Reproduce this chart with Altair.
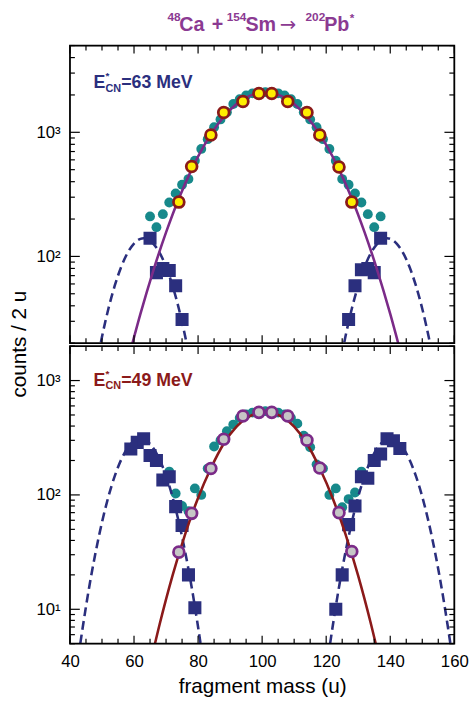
import altair as alt
import pandas as pd

FONT = "Liberation Sans"
W, H = 390, 302

NAVY = "#2B2F7E"
TEAL = "#17898B"
YELLOW = "#FFEE00"
DARKRED = "#8B1A1A"
PURPLE = "#7B2B88"
GRAY = "#C6C6C6"
TITLE_PURPLE = "#8B3A92"

# ---------------- top panel (E*CN = 63 MeV) ----------------
top_teal_mass = [65, 67, 69, 71, 73, 75, 77, 79, 81, 83, 85, 87, 89, 91, 93, 95, 97, 99, 101,
                 103, 105, 107, 109, 111, 113, 115, 117, 119, 121, 123, 125, 127, 129, 131, 133, 135, 137]
top_teal_counts = [210, 172, 219, 272, 322, 378, 420, 590, 735, 880, 1100, 1270, 1450, 1690, 1850, 1980, 2060, 2100, 2110,
                   2100, 2060, 1980, 1850, 1690, 1450, 1270, 1100, 880, 735, 590, 420, 378, 322, 272, 219, 172, 210]
top_sym_mass = [74, 78, 84, 88, 94, 99, 103, 108, 114, 118, 124, 128]
top_sym_counts = [274, 531, 952, 1443, 1772, 2053, 2053, 1772, 1443, 952, 525, 274]
top_sq_mass = [65, 67, 69, 71, 73, 75, 127, 129, 131, 133, 135, 137]
top_sq_counts = [140, 74, 80, 77, 58, 31, 31, 58, 78, 80, 74, 140]
top_fit_mass = [58, 62, 66, 70, 74, 78, 82, 86, 90, 94, 98, 101, 104, 108, 112, 116, 120, 124, 128, 132, 136, 140, 144]
top_fit_counts = [14.2, 34.4, 76.6, 156, 293, 503, 791, 1143, 1514, 1840, 2050, 2100, 2050, 1840, 1514, 1143, 791, 503,
                  293, 156, 76.6, 34.4, 14.2]
top_qfl_mass = [48, 50, 52, 54, 56, 58, 60, 62, 63, 64, 66, 68, 70, 72, 74, 76, 78]
top_qfl_counts = [12.3, 22.5, 37.9, 58.3, 82.4, 106.9, 127, 138.5, 140, 138.5, 127, 106.9, 82.4, 58.3, 37.9, 22.5, 12.3]
top_qfr_mass = [124, 126, 128, 130, 132, 134, 136, 138, 139, 140, 142, 144, 146, 148, 150, 152, 154]
top_qfr_counts = [12.3, 22.5, 37.9, 58.3, 82.4, 106.9, 127, 138.5, 140, 138.5, 127, 106.9, 82.4, 58.3, 37.9, 22.5, 12.3]

# ---------------- bottom panel (E*CN = 49 MeV) ----------------
bot_teal_mass = [71, 73, 75, 77, 79, 81, 83, 85, 87, 89, 91, 93, 95, 97, 99, 101,
                 103, 105, 107, 109, 111, 113, 115, 117, 119, 121, 123, 125, 127, 129, 131]
bot_teal_counts = [160, 103, 80, 72, 114, 100, 170, 265, 300, 360, 412, 470, 505, 525, 535, 540,
                   535, 525, 505, 470, 420, 330, 261, 185, 170, 100, 114, 78, 92, 105, 160]
bot_sym_mass = [74, 78, 84, 88, 94, 99, 103, 108, 114, 118, 124, 128]
bot_sym_counts = [31.6, 69, 170, 307, 490, 527, 527, 490, 301, 172, 70, 32]
bot_sq_mass = [59, 61, 63, 65, 67, 69, 71, 73, 75, 77, 79,
               123, 125, 127, 129, 131, 133, 135, 137, 139, 141, 143]
bot_sq_counts = [252, 288, 310, 221, 200, 135, 144, 79, 54, 20, 10.3,
                 10, 20, 55, 80, 144, 140, 200, 228, 310, 297, 255]
bot_fit_mass = [64, 68, 72, 76, 80, 84, 88, 92, 96, 101, 106, 110, 114, 118, 122, 126, 130, 134, 138]
bot_fit_counts = [2.47, 7.4, 19.6, 45.7, 94.1, 171, 280, 395, 485, 530, 485, 395, 280, 171, 94.1, 45.7, 19.6, 7.4, 2.47]
bot_qfl_mass = [42, 44, 46, 48, 50, 52, 54, 56, 58, 60, 62, 64, 66, 68, 70, 72, 74, 76, 78, 80, 82]
bot_qfl_counts = [2.9, 7.0, 15.6, 31.4, 57.7, 96.4, 146.7, 203.6, 257.2, 295.8, 310, 295.8, 257.2, 203.6, 146.7,
                  96.4, 57.7, 31.4, 15.6, 7.0, 2.9]
bot_qfr_mass = [120, 122, 124, 126, 128, 130, 132, 134, 136, 138, 140, 142, 144, 146, 148, 150, 152, 154, 156, 158, 160]
bot_qfr_counts = [2.9, 7.0, 15.6, 31.4, 57.7, 96.4, 146.7, 203.6, 257.2, 295.8, 310, 295.8, 257.2, 203.6, 146.7,
                  96.4, 57.7, 31.4, 15.6, 7.0, 2.9]

# ---------------- axes / ticks ----------------
x_domain = [40, 160]
x_major = [40, 60, 80, 100, 120, 140, 160]
x_minor = [45, 50, 55, 65, 70, 75, 85, 90, 95, 105, 110, 115, 125, 130, 135, 145, 150, 155]
top_ydomain = [20, 5000]
top_ymajor = [100, 1000]
top_yminor = [20, 30, 40, 50, 60, 70, 80, 90, 200, 300, 400, 500, 600, 700, 800, 900, 2000, 3000, 4000, 5000]
bot_ydomain = [5, 2000]
bot_ymajor = [10, 100, 1000]
bot_yminor = [5, 6, 7, 8, 9, 20, 30, 40, 50, 60, 70, 80, 90, 200, 300, 400, 500, 600, 700, 800, 900, 2000]

LABEL_EXPR = "datum.value == 1000 ? '10³' : datum.value == 100 ? '10²' : '10¹'"


def df(m, c=None):
    d = {"m": m}
    if c is not None:
        d["c"] = c
    return pd.DataFrame(d)


ONE = pd.DataFrame({"k": [0]})


def panel(teal, sq, sym, fit, qfl, qfr, ydom, ymaj, ymin, sym_fill, sym_stroke, fit_color, show_x, extra):
    xscale = alt.Scale(domain=x_domain, nice=False, zero=False)
    yscale = alt.Scale(type="log", domain=ydom, nice=False)
    if show_x:
        xaxis = alt.Axis(values=x_major, format="d", ticks=False, domain=False, grid=False,
                         labelFont=FONT, labelFontSize=17, labelColor="black", labelPadding=10,
                         labelFlush=False, labelOverlap=False,
                         title="fragment mass (u)", titleFont=FONT, titleFontSize=21,
                         titleFontWeight="normal", titleColor="black", titlePadding=7)
    else:
        xaxis = None
    yaxis = alt.Axis(values=ymaj, labelExpr=LABEL_EXPR, ticks=False, domain=False, grid=False,
                     labelFont=FONT, labelFontSize=17, labelColor="black", labelPadding=10,
                     labelFlush=False, title=None)

    def X():
        return alt.X("m:Q", scale=xscale, axis=xaxis)

    def Y():
        return alt.Y("c:Q", scale=yscale, axis=yaxis)

    qf = pd.concat([df(*qfl).assign(side="L"), df(*qfr).assign(side="R")])

    teal_l = alt.Chart(df(*teal)).mark_point(shape="circle", filled=True, color=TEAL, size=100, opacity=1, clip=True).encode(x=X(), y=Y())
    dash_l = alt.Chart(qf).mark_line(color=NAVY, strokeWidth=2.6, strokeDash=[9, 5], clip=True, interpolate="monotone").encode(
        x=X(), y=Y(), detail="side:N")
    sq_l = alt.Chart(df(*sq)).mark_point(shape="square", filled=True, color=NAVY, size=175, opacity=1, clip=True).encode(x=X(), y=Y())
    fit_l = alt.Chart(df(*fit)).mark_line(color=fit_color, strokeWidth=2.6, clip=True, interpolate="monotone").encode(x=X(), y=Y())
    sym_l = alt.Chart(df(*sym)).mark_point(shape="circle", filled=True, fill=sym_fill, stroke=sym_stroke, strokeWidth=2.8,
                                           size=120, opacity=1, fillOpacity=1, clip=True).encode(x=X(), y=Y())

    rule = dict(color="black", strokeWidth=1.2)
    tick_layers = []
    for vals, ln in ((x_major, 8), (x_minor, 5)):
        d = df(vals)
        tick_layers.append(alt.Chart(d).mark_rule(**rule).encode(x=X(), y=alt.value(H), y2=alt.value(H - ln)))
        tick_layers.append(alt.Chart(d).mark_rule(**rule).encode(x=X(), y=alt.value(0), y2=alt.value(ln)))
    for vals, ln in ((ymaj, 10), (ymin, 5)):
        d = pd.DataFrame({"c": vals})
        tick_layers.append(alt.Chart(d).mark_rule(**rule).encode(y=Y(), x=alt.value(0), x2=alt.value(ln)))
        tick_layers.append(alt.Chart(d).mark_rule(**rule).encode(y=Y(), x=alt.value(W), x2=alt.value(W - ln)))

    frame = alt.Chart(ONE).mark_rect(fillOpacity=0, stroke="black", strokeWidth=1.8).encode(
        x=alt.value(0), x2=alt.value(W), y=alt.value(0), y2=alt.value(H))

    layers = [teal_l, dash_l, sq_l, fit_l, sym_l] + tick_layers + [frame] + extra
    return alt.layer(*layers).properties(width=W, height=H)


def txt(s, x, y, size, color, bold=True, angle=None, align="left", font=FONT):
    kw = dict(text=s, font=font, fontSize=size, color=color, align=align, baseline="alphabetic",
              fontWeight="bold" if bold else "normal")
    if angle is not None:
        kw["angle"] = angle
        kw["baseline"] = "middle"
    return alt.Chart(pd.DataFrame({"t": [s]})).mark_text(**kw).encode(x=alt.value(x), y=alt.value(y))


def ecn_label(value, color, base):
    return [
        txt("E", 24, base, 18, color),
        txt("*", 36, base - 9, 10, color),
        txt("CN", 36, base + 4, 11, color),
        txt("=" + value + " MeV", 52, base, 18, color),
    ]


title_layers = [
    txt("48", 99, -25, 12, TITLE_PURPLE),
    txt("Ca", 111, -15, 20, TITLE_PURPLE),
    txt("+", 144, -15, 20, TITLE_PURPLE),
    txt("154", 159, -25, 12, TITLE_PURPLE),
    txt("Sm", 178, -15, 20, TITLE_PURPLE),
    txt("→", 213, -15, 20, TITLE_PURPLE, bold=False, font="DejaVu Sans"),
    txt("202", 239, -25, 12, TITLE_PURPLE),
    txt("Pb", 258, -15, 20, TITLE_PURPLE),
    txt("*", 284, -24, 12, TITLE_PURPLE),
]

top = panel((top_teal_mass, top_teal_counts), (top_sq_mass, top_sq_counts), (top_sym_mass, top_sym_counts),
            (top_fit_mass, top_fit_counts), (top_qfl_mass, top_qfl_counts), (top_qfr_mass, top_qfr_counts),
            top_ydomain, top_ymajor, top_yminor, YELLOW, DARKRED, PURPLE, False,
            ecn_label("63", NAVY, 43) + title_layers)

bottom = panel((bot_teal_mass, bot_teal_counts), (bot_sq_mass, bot_sq_counts), (bot_sym_mass, bot_sym_counts),
               (bot_fit_mass, bot_fit_counts), (bot_qfl_mass, bot_qfl_counts), (bot_qfr_mass, bot_qfr_counts),
               bot_ydomain, bot_ymajor, bot_yminor, GRAY, PURPLE, DARKRED, True,
               ecn_label("49", DARKRED, 40) + [txt("counts / 2 u", -51, -2, 21, "black", bold=False, angle=270, align="center")])

chart = alt.vconcat(top, bottom, spacing=3, bounds="flush").properties(
    padding={"left": 8, "top": 5, "right": 5, "bottom": 5}
).configure_view(stroke=None).configure(background="white")

chart.save("out.html", embed_options={"renderer": "svg", "actions": False})
